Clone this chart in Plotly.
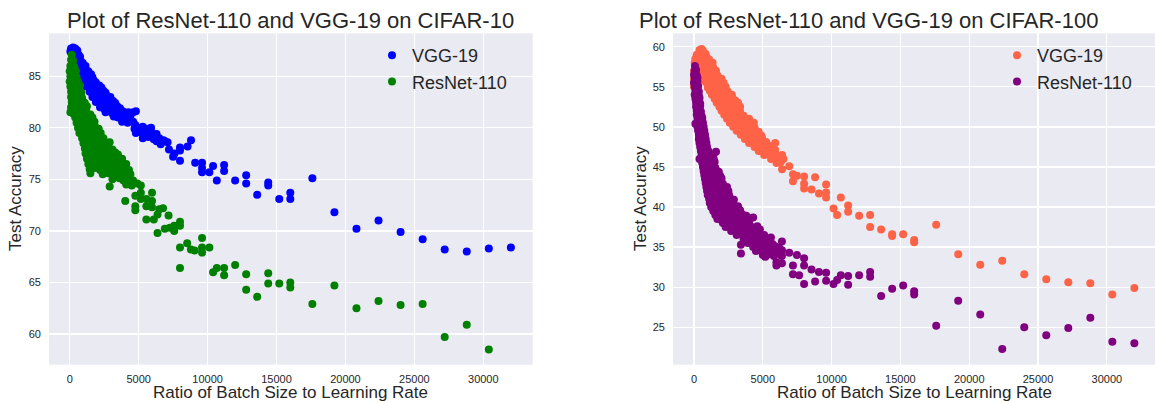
import plotly.graph_objects as go

# ---------------- data ----------------
c10_vgg = [
    (100,87.7),(250,87.8),(400,87.7),(50,87.4),(200,87.5),(350,87.3),(550,87.5),(150,87.1),(400,87.0),
    (650,87.1),(750,86.9),(300,86.6),(550,86.6),(800,86.5),(950,86.3),(450,86.1),(700,86.0),(950,85.9),
    (1150,86.0),(650,85.5),(850,85.4),(1100,85.6),(1350,85.5),(800,85.0),(1050,84.9),(1300,85.1),(1550,85.2),
    (1650,84.9),(1000,84.5),(1250,84.4),(1500,84.6),(1750,84.6),(1900,84.4),(1200,84.0),(1450,83.9),(1700,84.1),
    (1950,84.0),(2150,84.1),(2300,83.9),(1450,83.5),(1700,83.4),(1950,83.6),(2200,83.5),(2450,83.6),(2600,83.4),
    (1650,83.0),(1900,82.9),(2150,83.1),(2400,83.0),(2700,83.1),(2950,83.0),(1900,82.5),(2150,82.6),(2400,82.4),
    (2650,82.6),(2900,82.5),(3150,82.6),(3300,82.4),(2200,82.0),(2450,81.9),(2700,82.1),(2950,81.9),(3200,82.0),
    (3450,82.1),(3650,81.9),(2600,81.5),(2850,81.6),(3100,81.4),(3350,81.6),(3600,81.5),(3850,81.6),(4250,81.5),
    (4600,81.5),(4800,81.6),(3200,81.1),(3500,81.0),(3800,81.2),(4100,81.0),(4400,81.1),(3800,80.6),(4200,80.5),
    (4600,80.6),(4750,80.3),(4700,79.9),(5000,80.0),(5300,80.1),(5600,79.9),(5900,80.0),(4800,79.5),(5100,79.6),
    (5500,79.4),(6000,79.5),(6300,79.4),(5300,79.0),(5700,79.1),(6100,78.9),(6500,79.0),(6800,78.8),(6300,78.7),
    (6600,78.4),(6900,78.7),(7100,78.6),
    (7200,77.9),(7600,77.5),(7500,77.2),(8000,78.1),(8000,77.8),(8000,76.8),(8550,78.2),(8800,78.8),(9100,76.6),
    (9600,76.6),(9600,76.1),(9600,75.7),(10130,75.7),(10400,76.3),(10670,74.9),(11200,76.4),(11200,75.8),
    (12000,74.9),(12800,75.4),(12800,74.6),(13600,73.5),(14400,74.7),(14400,74.4),(15200,73.1),(16000,73.7),
    (16000,73.1),(17600,75.1),(19200,71.8),(20800,70.2),(22400,71.0),(24000,69.9),(25600,69.2),(27200,68.2),
    (28800,68.0),(30400,68.3),(32000,68.4),
]

c10_resnet = [
    (150,87.1),(100,86.6),(250,86.5),(50,86.0),(200,86.1),(350,85.9),(0,85.5),(150,85.6),(300,85.4),(450,85.5),
    (50,85.0),(200,84.9),(350,85.1),(500,84.9),(0,84.5),(150,84.6),(300,84.4),(450,84.6),(600,84.5),(50,84.0),
    (200,84.1),(400,83.9),(600,84.0),(750,84.1),(100,83.5),(300,83.6),(500,83.4),(700,83.5),(850,83.4),(100,83.0),
    (250,82.9),(450,83.1),(650,83.0),(900,82.9),(150,82.5),(350,82.6),(550,82.4),(800,82.6),(1000,82.5),(1100,82.4),
    (100,82.0),(300,81.9),(500,82.1),(750,82.0),(1000,81.9),(1250,82.1),(50,81.5),(250,81.4),(450,81.6),(700,81.5),
    (950,81.4),(1200,81.6),(1500,81.3),(400,81.0),(600,80.9),(850,81.1),(1100,81.0),(1350,80.9),(1650,81.0),
    (500,80.5),(750,80.4),(1000,80.6),(1250,80.5),(1500,80.4),(1800,80.6),(600,80.0),(850,79.9),(1100,80.1),
    (1350,80.0),(1600,79.9),(1850,80.1),(2100,79.9),(700,79.5),(950,79.6),(1200,79.4),(1450,79.5),(1700,79.6),
    (1950,79.4),(2250,79.5),(900,79.0),(1150,79.1),(1400,78.9),(1650,79.0),(1900,79.1),(2150,78.9),(2450,79.0),
    (1000,78.5),(1250,78.6),(1500,78.4),(1750,78.5),(2000,78.6),(2300,78.4),(2600,78.5),(2900,78.6),(1100,78.0),
    (1350,77.9),(1600,78.1),(1850,78.0),(2100,77.9),(2400,78.1),(2700,78.0),(3100,77.9),(1150,77.5),(1400,77.6),
    (1700,77.4),(2000,77.5),(2300,77.6),(2600,77.4),(2900,77.5),(3300,77.6),(3500,77.4),(1250,77.0),(1550,76.9),
    (1850,77.1),(2150,77.0),(2450,76.9),(2750,77.1),(3100,77.0),(3400,76.9),(3800,77.0),(1350,76.5),(1700,76.4),
    (2000,76.6),(2300,76.5),(2600,76.4),(2950,76.6),(3300,76.5),(3600,76.4),(4100,76.5),(1450,76.0),(1800,76.1),
    (2200,75.9),(2500,76.0),(2900,76.1),(3200,75.9),(3500,76.0),(3800,76.1),(4300,75.9),(1500,75.6),(2400,75.5),
    (2800,75.6),(3300,75.4),(3700,75.5),(4000,75.6),(4400,75.5),(3100,75.0),(3600,75.1),(3900,74.9),(4300,75.0),
    (4600,74.9),(4100,74.5),(4500,74.4),(4900,74.6),(2900,74.3),
    (4030,72.9),(4760,73.4),(4760,72.4),(4760,72.0),(5160,74.4),(5160,73.7),(5160,73.1),(5560,73.1),(5560,72.4),
    (5560,71.1),(5970,73.7),(5970,72.9),(5970,72.3),(6100,71.1),(6500,72.1),(6370,71.6),(6370,69.8),(6770,72.2),
    (7170,71.5),(6900,70.2),(7260,70.3),(7580,70.0),(7580,70.5),(8000,70.9),(8000,70.5),(8000,68.4),(8000,66.4),
    (8520,68.8),(8790,68.2),(9060,68.1),(9600,69.3),(9600,68.4),(9600,67.9),(10130,68.4),(10400,66.0),(10670,66.4),
    (11200,66.4),(11200,65.7),(12000,66.7),(12800,65.8),(12800,64.3),(13600,63.6),(14400,65.9),(14400,64.9),
    (15200,64.9),(16000,65.0),(16000,64.5),(17600,62.9),(19200,64.7),(20800,62.5),(22400,63.2),(24000,62.8),
    (25600,62.9),(27200,59.7),(28800,60.9),(30400,58.5),
]

c100_vgg = [
    (400,59.6),(550,59.7),(650,59.5),(200,59.0),(350,59.1),(500,58.9),(700,59.0),(850,59.1),(100,58.5),(300,58.6),
    (500,58.4),(750,58.5),(950,58.6),(1100,58.4),(50,58.0),(250,58.1),(450,57.9),(700,58.0),(950,58.1),(1200,57.9),
    (1350,58.0),(150,57.5),(400,57.6),(650,57.4),(900,57.5),(1150,57.6),(1400,57.4),(0,57.0),(300,57.1),(550,56.9),
    (800,57.0),(1050,57.1),(1300,56.9),(1600,57.0),(100,56.5),(650,56.6),(900,56.4),(1150,56.5),(1400,56.6),
    (1700,56.4),(0,56.0),(750,55.9),(1000,56.1),(1250,56.0),(1500,55.9),(1800,56.1),(2000,56.0),(0,55.5),(850,55.6),
    (1100,55.4),(1350,55.5),(1600,55.6),(1900,55.4),(2150,55.5),(0,55.0),(1000,54.9),(1250,55.1),(1500,55.0),
    (1750,54.9),(2000,55.1),(2300,55.0),(1150,54.5),(1400,54.6),(1650,54.4),(1900,54.5),(2150,54.6),(2450,54.4),
    (1300,54.0),(1550,54.1),(1800,53.9),(2050,54.0),(2300,54.1),(2600,53.9),(2750,54.0),(1500,53.5),(1750,53.4),
    (2000,53.6),(2250,53.5),(2500,53.4),(2800,53.6),(3000,53.3),(1650,53.0),(1900,52.9),(2150,53.1),(2400,53.0),
    (2700,52.9),(2950,53.1),(3200,53.0),(1850,52.5),(2100,52.6),(2350,52.4),(2600,52.5),(2900,52.6),(3150,52.4),
    (3350,52.5),(2000,52.0),(2300,52.1),(2550,51.9),(2800,52.0),(3050,52.1),(3350,51.9),(2200,51.5),(2450,51.6),
    (2700,51.4),(3000,51.5),(3300,51.6),(3600,51.4),(2400,51.0),(2650,51.1),(2950,50.9),(3250,51.0),(3550,51.1),
    (3800,50.9),(4000,51.0),(2600,50.5),(2900,50.6),(3200,50.4),(3500,50.5),(3800,50.6),(4100,50.4),(4350,50.5),
    (2850,50.0),(3150,50.1),(3450,49.9),(3800,50.0),(4100,50.1),(4400,49.9),(3100,49.5),(3400,49.6),(3750,49.4),
    (4050,49.5),(4400,49.6),(4700,49.4),(3400,49.0),(3700,49.1),(4000,48.9),(4350,49.0),(4700,49.1),(4900,48.9),
    (3700,48.5),(4050,48.6),(4350,48.4),(4650,48.5),(4950,48.6),(4000,48.0),(4350,48.1),(4650,47.9),(4950,48.0),
    (5250,48.1),(5900,48.0),(4400,47.5),(4700,47.6),(5000,47.4),(5300,47.5),(5550,47.6),(4700,47.0),(5000,47.1),
    (5300,46.9),(5600,47.0),(5900,47.1),(5100,46.5),(5400,46.6),(5700,46.4),(6000,46.5),(6400,46.5),(5600,46.0),
    (5900,46.1),(6200,45.9),(6500,46.0),(6000,45.5),(6300,45.6),
    (6400,44.7),(6920,45.1),(7190,44.1),(7190,43.2),(7480,43.9),(8000,43.8),(8000,42.9),(8000,42.3),(8540,42.2),
    (8800,43.7),(9080,41.7),(9600,42.8),(9600,41.8),(9600,41.2),(10140,39.8),(10400,39.0),(10670,41.2),
    (11200,40.2),(11200,39.4),(12000,38.9),(12800,39.0),(12800,37.5),(13600,37.2),(14400,36.6),(14400,36.4),
    (15200,36.6),(16000,35.9),(16000,35.6),(17600,37.8),(19200,34.1),(20800,32.8),(22400,33.3),(24000,31.6),
    (25600,31.0),(27200,30.6),(28800,30.5),(30400,29.1),(32000,29.9),
]

c100_resnet = [
    (70,57.6),(50,57.0),(150,57.1),(0,56.5),(100,56.6),(200,56.4),(50,56.0),(150,55.9),(250,56.1),(0,55.5),
    (100,55.4),(250,55.6),(50,55.0),(200,54.9),(300,55.1),(100,54.5),(250,54.6),(350,54.4),(50,54.0),(200,54.1),
    (350,53.9),(100,53.5),(250,53.4),(400,53.6),(150,53.0),(300,53.1),(450,52.9),(150,52.5),(300,52.4),(450,52.6),
    (200,52.0),(350,52.1),(500,51.9),(200,51.5),(400,51.6),(550,51.4),(250,51.0),(400,50.9),(600,51.1),(100,50.4),
    (300,50.6),(450,50.4),(650,50.5),(250,50.0),(400,50.1),(550,49.9),(700,50.0),(300,49.5),(450,49.4),(600,49.6),
    (750,49.5),(350,49.0),(500,49.1),(650,48.9),(800,49.0),(350,48.5),(550,48.6),(700,48.4),(850,48.5),(400,48.0),
    (600,47.9),(750,48.1),(900,48.0),(450,47.5),(650,47.6),(800,47.4),(950,47.5),(500,47.0),(700,47.1),(850,46.9),
    (1050,47.0),(1600,46.9),(550,46.5),(750,46.4),(900,46.6),(1100,46.5),(1400,46.4),(400,46.0),(600,46.1),(800,45.9),
    (1000,46.0),(1200,46.1),(1450,45.9),(600,45.5),(850,45.6),(1050,45.4),(1250,45.5),(1500,45.6),(650,45.0),
    (900,44.9),(1100,45.1),(1300,45.0),(1550,44.9),(700,44.5),(950,44.6),(1150,44.4),(1350,44.5),(1600,44.6),
    (1800,44.4),(750,44.0),(1000,44.1),(1200,43.9),(1450,44.0),(1700,44.1),(1900,43.9),(800,43.5),(1050,43.4),
    (1300,43.6),(1550,43.5),(1800,43.4),(2000,43.6),(850,43.0),(1100,43.1),(1350,42.9),(1600,43.0),(1850,43.1),
    (2100,42.9),(900,42.5),(1150,42.4),(1400,42.6),(1650,42.5),(1900,42.4),(2150,42.6),(2400,42.5),(950,42.0),
    (1200,42.1),(1450,41.9),(1700,42.0),(1950,42.1),(2250,41.9),(2500,42.0),(1000,41.5),(1250,41.6),(1500,41.4),
    (1750,41.5),(2000,41.6),(2300,41.4),(2550,41.5),(1100,41.0),(1350,40.9),(1600,41.1),(1850,41.0),(2100,40.9),
    (2400,41.1),(2700,41.0),(2900,40.9),(1150,40.5),(1400,40.6),(1650,40.4),(1900,40.5),(2200,40.6),(2500,40.4),
    (2800,40.5),(1250,40.0),(1500,40.1),(1750,39.9),(2000,40.0),(2300,40.1),(2600,39.9),(2900,40.0),(3200,40.1),
    (1400,39.5),(1650,39.6),(1900,39.4),(2150,39.5),(2450,39.6),(2750,39.4),(3050,39.5),(3350,39.6),(1550,39.0),
    (1800,39.1),(2050,38.9),(2300,39.0),(2600,39.1),(2900,38.9),(3200,39.0),(3500,39.1),(3800,38.9),(1700,38.5),
    (1950,38.4),(2200,38.6),(2500,38.5),(2800,38.4),(3100,38.6),(3400,38.5),(3750,38.4),(4100,38.6),(4300,38.7),
    (2100,38.0),(2400,38.1),(2700,37.9),(3000,38.0),(3300,38.1),(3650,37.9),(4000,38.0),(2300,37.5),(2600,37.6),
    (2900,37.4),(3200,37.5),(3500,37.6),(3850,37.4),(4200,37.5),(4600,37.6),(2700,37.0),(3000,37.1),(3300,36.9),
    (3650,37.0),(4000,37.1),(4350,36.9),(4700,37.0),(4790,37.2),(3100,36.5),(3400,36.6),(3750,36.4),(4100,36.5),
    (4450,36.6),(4800,36.4),(5100,36.5),(3600,36.0),(3950,36.1),(4300,35.9),(4650,36.0),(5000,36.1),(5400,35.9),
    (3900,35.5),(4250,35.6),(4600,35.4),(4950,35.5),(5300,35.6),(5700,35.4),(3410,35.3),(3410,34.2),(4300,35.0),
    (4700,35.1),(5100,34.9),(5500,35.0),(5900,35.1),(6200,34.9),(4500,34.5),(4900,34.6),(5300,34.4),(5700,34.5),
    (6100,34.6),(5000,34.0),(5400,34.1),(5800,33.9),(6300,34.0),(5590,36.2),(5190,34.6),(5190,33.8),
    (5990,33.1),(5990,32.7),(6390,35.7),(6390,34.6),(6390,33.9),(6390,33.0),(6920,34.3),(7190,32.7),(7190,31.6),
    (7480,34.0),(7640,31.5),(8000,33.6),(8000,32.7),(8000,30.4),(8540,32.2),(8800,30.7),(9080,31.9),(9600,31.8),
    (9600,30.8),(10140,30.4),(10400,30.9),(10670,31.5),(11200,31.4),(11200,30.3),(12000,31.5),(12800,31.9),
    (12800,31.3),(13600,28.9),(14400,29.8),(15200,30.2),(16000,29.5),(16000,29.1),(17600,25.2),(19200,28.3),
    (20800,26.6),(22400,22.3),(24000,25.0),(25600,24.0),(27200,24.9),(28800,26.2),(30400,23.2),(32000,23.0),
]

titles = ["Plot of ResNet-110 and VGG-19 on CIFAR-10", "Plot of ResNet-110 and VGG-19 on CIFAR-100"]
x_title = "Ratio of Batch Size to Learning Rate"
y_title = "Test Accuracy"
x_ticks = [0, 5000, 10000, 15000, 20000, 25000, 30000]
y_ticks_left = [60, 65, 70, 75, 80, 85]
y_ticks_right = [25, 30, 35, 40, 45, 50, 55, 60]

# ---------------- figure ----------------
FONT = "Liberation Sans, Arial, sans-serif"
TXT = "#262626"
W, H = 1155, 402

def unzip(pairs):
    return [p[0] for p in pairs], [p[1] for p in pairs]

fig = go.Figure()

def add(pairs, name, color, xa, ya, legend):
    xs, ys = unzip(pairs)
    fig.add_trace(go.Scatter(
        x=xs, y=ys, mode="markers", name=name,
        marker=dict(color=color, size=8, line=dict(width=0)),
        xaxis=xa, yaxis=ya, legend=legend,
    ))

add(c10_vgg, "VGG-19", "#0000FF", "x", "y", "legend")
add(c10_resnet, "ResNet-110", "#008000", "x", "y", "legend")
add(c100_vgg, "VGG-19", "#FF6347", "x2", "y2", "legend2")
add(c100_resnet, "ResNet-110", "#800080", "x2", "y2", "legend2")

px = lambda v: v / W
py = lambda v: 1 - v / H

axis_common = dict(
    showgrid=True, gridcolor="white", gridwidth=1.3, zeroline=False, showline=False,
    ticks="", tickfont=dict(family=FONT, size=11, color=TXT), automargin=False,
)

L0, L1 = 49, 532.7
R0, R1 = 673, 1155
T, B = 33.3, 364.7

fig.update_layout(
    width=W, height=H, autosize=False,
    margin=dict(l=0, r=0, t=0, b=0, autoexpand=False),
    paper_bgcolor="white", plot_bgcolor="#EAEAF2",
    font=dict(family=FONT, color=TXT),
    xaxis=dict(domain=[px(L0), px(L1)], range=[-1501, 33582], tickvals=x_ticks,
               ticktext=[str(v) for v in x_ticks], anchor="y", ticklabelstandoff=6, **axis_common),
    yaxis=dict(domain=[py(B), py(T)], range=[57.02, 89.17], tickvals=y_ticks_left,
               anchor="x", ticklabelstandoff=7, **axis_common),
    xaxis2=dict(domain=[px(R0), px(R1)], range=[-1526, 33501], tickvals=x_ticks,
                ticktext=[str(v) for v in x_ticks], anchor="y2", ticklabelstandoff=6, **axis_common),
    yaxis2=dict(domain=[py(B), py(T)], range=[20.33, 61.67], tickvals=y_ticks_right,
                anchor="x2", ticklabelstandoff=7, **axis_common),
    legend=dict(x=px(372), y=py(37), xanchor="left", yanchor="top", bgcolor="rgba(0,0,0,0)",
                font=dict(family=FONT, size=18, color=TXT), tracegroupgap=0, itemwidth=30),
    legend2=dict(x=px(997), y=py(37), xanchor="left", yanchor="top", bgcolor="rgba(0,0,0,0)",
                 font=dict(family=FONT, size=18, color=TXT), tracegroupgap=0, itemwidth=30),
    showlegend=True,
)

def ann(text, x, y, size, angle=0):
    fig.add_annotation(text=text, x=px(x), y=py(y), xref="paper", yref="paper", showarrow=False,
                       textangle=angle, font=dict(family=FONT, size=size, color=TXT),
                       xanchor="center", yanchor="middle")

ann(titles[0], (L0 + L1) / 2, 20, 22)
ann(titles[1], 868, 20, 22)
ann(x_title, (L0 + L1) / 2, 392, 17)
ann(x_title, 914, 392, 17)
ann(y_title, 15, 199, 17, -90)
ann(y_title, 640, 199, 17, -90)

# remove the browser's default 8px body margin so the figure fills the window exactly
fig.write_html("out.html",
               config={"displayModeBar": False, "staticPlot": True},
               post_script="document.body.style.margin='0';document.body.style.overflow='hidden';")
